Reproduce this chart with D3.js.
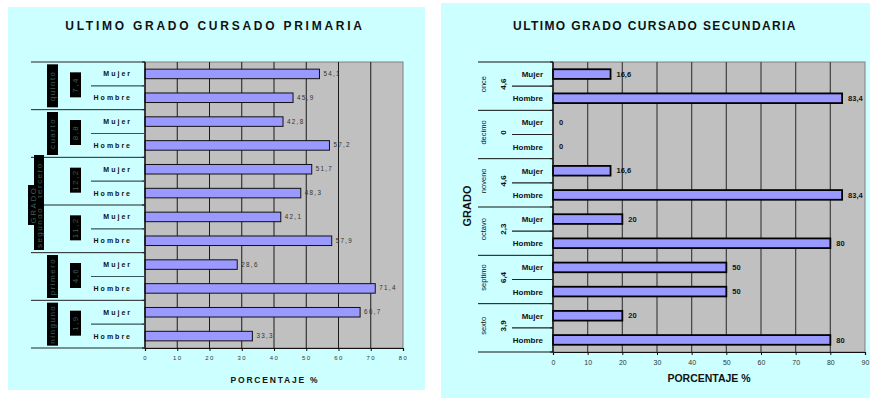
<!DOCTYPE html>
<html><head><meta charset="utf-8">
<script src="https://cdn.jsdelivr.net/npm/d3@7"></script>
<style>body{margin:0;background:#fff}svg{display:block}text{font-family:Arial,"Liberation Sans",sans-serif}</style>
</head><body><svg id="c" width="876" height="404"></svg>
<script>
// ---------- DATA ----------
const sexes = ["Mujer", "Hombre"];
// Primaria (top to bottom); group labels render as unreadable glyph boxes in the reference
const primGrades = ["quinto", "cuarto", "tercero", "segundo", "primero", "ninguno"];
const primNums = ["7,4", "8,8", "12,2", "11,2", "4,6", "1,9"];
const primMujer = [54.1, 42.8, 51.7, 42.1, 28.6, 66.7];
const primHombre = [45.9, 57.2, 48.3, 57.9, 71.4, 33.3];
const primTicks = [0, 10, 20, 30, 40, 50, 60, 70, 80];
// Secundaria (top to bottom)
const secGrades = ["once", "decimo", "noveno", "octavo", "septimo", "sexto"];
const secNums = ["4,6", "0", "4,6", "2,3", "6,4", "3,9"];
const secMujer = [16.6, 0, 16.6, 20, 50, 20];
const secHombre = [83.4, 0, 83.4, 80, 50, 80];
const secTicks = [0, 10, 20, 30, 40, 50, 60, 70, 80, 90];

const titles = ["ULTIMO GRADO CURSADO PRIMARIA", "ULTIMO GRADO CURSADO SECUNDARIA"];
const axisTitleX = "PORCENTAJE %";
const axisTitleY = "GRADO";

const fmt = v => String(v).replace(".", ",");
const svg = d3.select("#c");

function rows(grades, muj, hom) {
  const r = [];
  grades.forEach((g, i) => {
    r.push({key: g + "|Mujer", grade: g, sex: "Mujer", v: muj[i], gi: i});
    r.push({key: g + "|Hombre", grade: g, sex: "Hombre", v: hom[i], gi: i});
  });
  return r;
}

// ---------- LEFT: PRIMARIA ----------
(function () {
  const P = {x0: 145, x1: 403, y0: 62, y1: 348};
  const data = rows(primGrades, primMujer, primHombre);
  const g = svg.append("g");
  g.append("rect").attr("x", 8).attr("y", 7).attr("width", 417).attr("height", 383).attr("fill", "#ccffff");
  g.append("text").attr("x", 215).attr("y", 30).attr("text-anchor", "middle")
    .attr("font-size", 12).attr("font-weight", "bold").attr("letter-spacing", 2.75).attr("fill", "#111").text(titles[0]);

  const x = d3.scaleLinear().domain([0, 80]).range([P.x0, P.x1]);
  const y = d3.scaleBand().domain(data.map(d => d.key)).range([P.y0, P.y1]).paddingInner(0.6).paddingOuter(0.3);
  const band = (P.y1 - P.y0) / data.length;
  const gh = band * 2;

  g.append("rect").attr("x", P.x0).attr("y", P.y0).attr("width", P.x1 - P.x0).attr("height", P.y1 - P.y0)
    .attr("fill", "#c0c0c0").attr("stroke", "#808080");
  g.selectAll(".gl").data(primTicks.slice(1, -1)).join("line")
    .attr("x1", d => x(d)).attr("x2", d => x(d)).attr("y1", P.y0).attr("y2", P.y1)
    .attr("stroke", "#1a1a1a").attr("stroke-width", 1);

  g.selectAll(".bar").data(data).join("rect")
    .attr("x", x(0)).attr("y", d => y(d.key)).attr("width", d => x(d.v) - x(0)).attr("height", y.bandwidth())
    .attr("fill", "#9999ff").attr("stroke", "#111").attr("stroke-width", 1);
  g.selectAll(".vl").data(data).join("text")
    .attr("x", d => x(d.v) + 4).attr("y", d => y(d.key) + y.bandwidth() / 2 + 2)
    .attr("font-size", 6.3).attr("letter-spacing", 1.3).attr("fill", "#333").text(d => fmt(d.v));

  // axes
  const ax = d3.axisBottom(x).tickValues(primTicks).tickSize(3).tickFormat(d => d);
  const axg = g.append("g").attr("transform", `translate(0,${P.y1})`).call(ax);
  axg.select(".domain").attr("stroke", "#111").attr("stroke-width", 1.2);
  axg.selectAll("line").attr("stroke", "#111");
  axg.selectAll("text").attr("font-size", 6).attr("letter-spacing", 1.3).attr("fill", "#333").attr("dy", "0.95em").attr("font-family", "Arial, 'Liberation Sans', sans-serif");
  g.append("line").attr("x1", P.x0).attr("x2", P.x0).attr("y1", P.y0).attr("y2", P.y1).attr("stroke", "#111").attr("stroke-width", 1.5);
  d3.range(data.length + 1).forEach(i => {
    g.append("line").attr("x1", P.x0 - 3).attr("x2", P.x0).attr("y1", P.y0 + i * band).attr("y2", P.y0 + i * band).attr("stroke", "#111");
  });
  g.append("text").attr("x", 275).attr("y", 383).attr("text-anchor", "middle").attr("font-size", 8.5)
    .attr("font-weight", "bold").attr("letter-spacing", 1.8).attr("fill", "#111").text(axisTitleX);

  // hierarchical category axis
  d3.range(primGrades.length + 1).forEach(i => {
    g.append("line").attr("x1", 31).attr("x2", P.x0).attr("y1", P.y0 + i * gh).attr("y2", P.y0 + i * gh).attr("stroke", "#222");
  });
  primGrades.forEach((gr, i) => {
    const cy = P.y0 + i * gh + gh / 2;
    g.append("line").attr("x1", 91).attr("x2", P.x0).attr("y1", cy).attr("y2", cy).attr("stroke", "#3a5555").attr("stroke-width", 1.2);
  });
  g.selectAll(".sx").data(data).join("text")
    .attr("x", 132).attr("y", d => y(d.key) + y.bandwidth() / 2 + 2.5).attr("text-anchor", "end")
    .attr("font-size", 7).attr("font-weight", "bold").attr("letter-spacing", 2).attr("fill", "#111").text(d => d.sex);

  function box(cx, cy, w, h, label, fs) {
    g.append("rect").attr("x", cx - w / 2).attr("y", cy - h / 2).attr("width", w).attr("height", h).attr("fill", "#000");
    g.append("text").attr("transform", `translate(${cx + fs * 0.35},${cy}) rotate(-90)`).attr("text-anchor", "middle")
      .attr("font-size", fs).attr("fill", "#3d5c5c").attr("letter-spacing", 1.5).text(label);
  }
  primGrades.forEach((gr, i) => {
    const cy = P.y0 + i * gh + gh / 2;
    const wide = (i === 2 || i === 3);
    if (wide) {
      const top = i === 2 ? 155 : P.y0 + 3 * gh;
      const bot = i === 2 ? P.y0 + 3 * gh : 250;
      box(39, (top + bot) / 2, 10, bot - top, gr, 8);
    } else {
      box(52.5, cy, 11, 43, gr, 8);
    }
    box(75.5, cy - 1, 11, 25, primNums[i], 8);
  });
  box(33, 205, 10, 40, axisTitleY, 8);
})();

// ---------- RIGHT: SECUNDARIA ----------
(function () {
  const P = {x0: 553, x1: 865, y0: 62, y1: 352};
  const data = rows(secGrades, secMujer, secHombre);
  const g = svg.append("g");
  g.append("rect").attr("x", 441).attr("y", 3).attr("width", 429).attr("height", 395).attr("fill", "#ccffff");
  g.append("text").attr("x", 655).attr("y", 30).attr("text-anchor", "middle")
    .attr("font-size", 12).attr("font-weight", "bold").attr("letter-spacing", 1.4).attr("fill", "#111").text(titles[1]);

  const x = d3.scaleLinear().domain([0, 90]).range([P.x0, P.x1]);
  const y = d3.scaleBand().domain(data.map(d => d.key)).range([P.y0, P.y1]).paddingInner(0.6).paddingOuter(0.3);
  const band = (P.y1 - P.y0) / data.length;
  const gh = band * 2;

  g.append("rect").attr("x", P.x0).attr("y", P.y0).attr("width", P.x1 - P.x0).attr("height", P.y1 - P.y0)
    .attr("fill", "#c0c0c0").attr("stroke", "#808080");
  g.selectAll(".gl").data(secTicks.slice(1, -1)).join("line")
    .attr("x1", d => x(d)).attr("x2", d => x(d)).attr("y1", P.y0).attr("y2", P.y1)
    .attr("stroke", "#404040").attr("stroke-width", 1.2);

  g.selectAll(".bar").data(data.filter(d => d.v > 0)).join("rect")
    .attr("x", x(0)).attr("y", d => y(d.key)).attr("width", d => x(d.v) - x(0)).attr("height", y.bandwidth())
    .attr("fill", "#9999ff").attr("stroke", "#000").attr("stroke-width", 1.8);
  g.selectAll(".vl").data(data).join("text")
    .attr("x", d => x(d.v) + 6).attr("y", d => y(d.key) + y.bandwidth() / 2 + 2.7)
    .attr("font-size", 7.5).attr("font-weight", "bold").attr("fill", "#111").text(d => fmt(d.v));

  const ax = d3.axisBottom(x).tickValues(secTicks).tickSize(3).tickFormat(d => d);
  const axg = g.append("g").attr("transform", `translate(0,${P.y1})`).call(ax);
  axg.select(".domain").attr("stroke", "#111").attr("stroke-width", 1.2);
  axg.selectAll("line").attr("stroke", "#111");
  axg.selectAll("text").attr("font-size", 7).attr("fill", "#333").attr("dy", "1em").attr("font-family", "Arial, 'Liberation Sans', sans-serif");
  g.append("line").attr("x1", P.x0).attr("x2", P.x0).attr("y1", P.y0).attr("y2", P.y1).attr("stroke", "#111").attr("stroke-width", 1.5);
  d3.range(data.length + 1).forEach(i => {
    g.append("line").attr("x1", P.x0 - 3).attr("x2", P.x0).attr("y1", P.y0 + i * band).attr("y2", P.y0 + i * band).attr("stroke", "#111");
  });
  g.append("text").attr("x", 709).attr("y", 382).attr("text-anchor", "middle").attr("font-size", 10.5)
    .attr("font-weight", "bold").attr("fill", "#111").text(axisTitleX);

  d3.range(secGrades.length + 1).forEach(i => {
    g.append("line").attr("x1", 478).attr("x2", P.x0).attr("y1", P.y0 + i * gh).attr("y2", P.y0 + i * gh).attr("stroke", "#111");
  });
  secGrades.forEach((gr, i) => {
    const cy = P.y0 + i * gh + gh / 2;
    g.append("line").attr("x1", 512).attr("x2", P.x0).attr("y1", cy).attr("y2", cy).attr("stroke", "#222").attr("stroke-width", 1.2);
    g.append("text").attr("transform", `translate(486,${cy - 2}) rotate(-90)`).attr("text-anchor", "middle")
      .attr("font-size", 7.5).attr("fill", "#111").text(gr);
    g.append("text").attr("transform", `translate(506,${cy - 2}) rotate(-90)`).attr("text-anchor", "middle")
      .attr("font-size", 8).attr("font-weight", "bold").attr("fill", "#111").text(secNums[i]);
  });
  g.selectAll(".sx").data(data).join("text")
    .attr("x", 543).attr("y", d => y(d.key) + y.bandwidth() / 2 + 3).attr("text-anchor", "end")
    .attr("font-size", 8).attr("font-weight", "bold").attr("fill", "#111").text(d => d.sex);
  g.append("text").attr("transform", `translate(471,206) rotate(-90)`).attr("text-anchor", "middle")
    .attr("font-size", 11).attr("font-weight", "bold").attr("fill", "#111").text(axisTitleY);
})();
</script></body></html>
